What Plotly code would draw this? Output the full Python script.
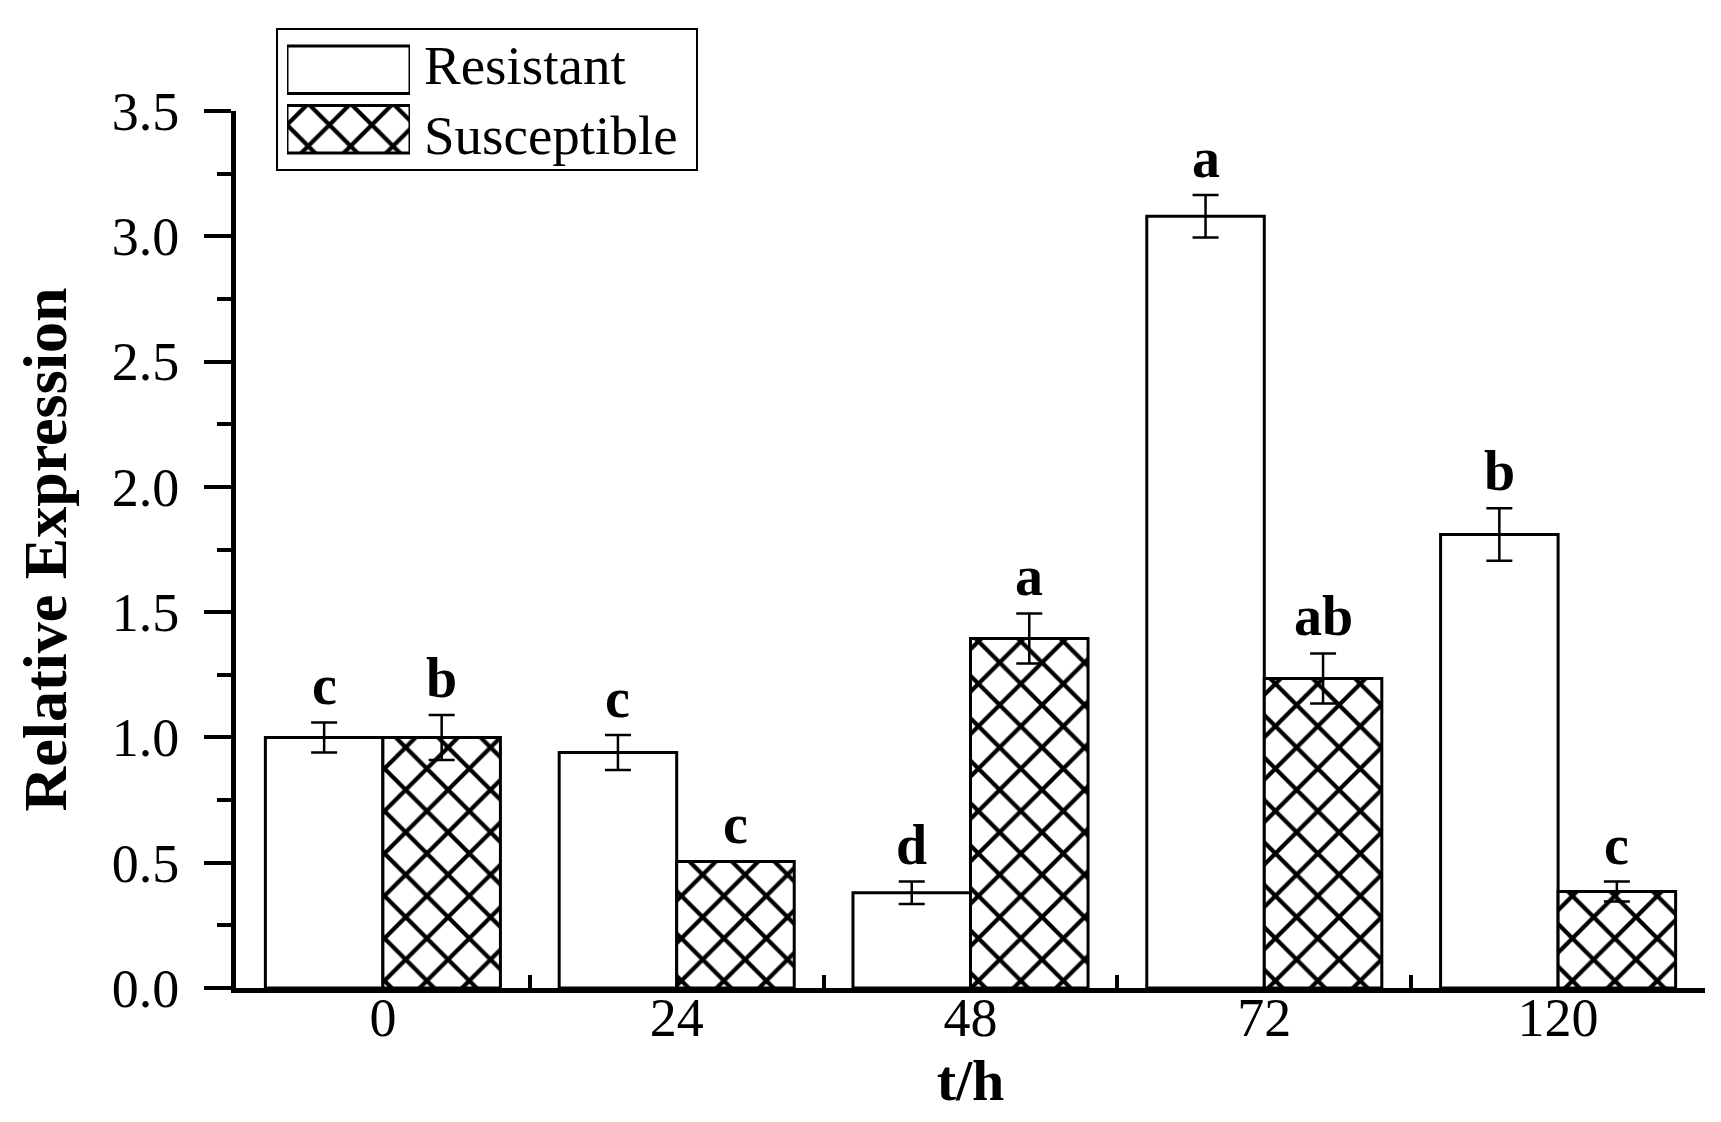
import plotly.graph_objects as go

# ---- data ----
time_labels = ["0", "24", "48", "72", "120"]
series_names = ["Resistant", "Susceptible"]
resistant = [1.00, 0.94, 0.38, 3.08, 1.81]
resistant_err = [0.06, 0.07, 0.045, 0.085, 0.105]
resistant_letters = ["c", "c", "d", "a", "b"]
susceptible = [1.00, 0.505, 1.395, 1.235, 0.385]
susceptible_err = [0.09, 0.0, 0.10, 0.10, 0.04]
susceptible_letters = ["b", "c", "a", "ab", "c"]

FONT = "Liberation Serif, Times New Roman, serif"
W, H = 1721, 1122
ML, MR, MT, MB = 228, 24, 10, 142
plot_w = W - ML - MR
plot_h = H - MT - MB


def px_to_paper_x(px):
    return (px - ML) / plot_w


def px_to_paper_y(py):
    return 1 - (py - MT) / plot_h


main_top = px_to_paper_y(103)

line_style = dict(color="black", width=3)
PAT_SIZE, PAT_SOLID = 30, 0.26
pattern_x = dict(shape="x", fgcolor="black", bgcolor="white", fgopacity=1,
                 size=PAT_SIZE, solidity=PAT_SOLID)

fig = go.Figure()
fig.add_trace(go.Bar(
    x=time_labels, y=resistant, name=series_names[0],
    marker=dict(color="white", line=line_style),
    error_y=dict(type="data", array=resistant_err, color="black", thickness=2.5, width=13),
    showlegend=False,
))
fig.add_trace(go.Bar(
    x=time_labels, y=susceptible, name=series_names[1],
    marker=dict(color="white", line=line_style, pattern=pattern_x),
    error_y=dict(type="data", array=susceptible_err, color="black", thickness=2.5, width=13),
    showlegend=False,
))

# significance letters
annotations = []
for i in range(len(time_labels)):
    for off, vals, errs, letters in ((-0.2, resistant, resistant_err, resistant_letters),
                                     (0.2, susceptible, susceptible_err, susceptible_letters)):
        annotations.append(dict(
            x=i + off, y=vals[i] + errs[i], xref="x", yref="y",
            text=letters[i], showarrow=False, yanchor="bottom", yshift=4,
            font=dict(family=FONT, size=56, color="black", weight="bold"),
        ))

# legend (inset swatches + labels)
fig.add_trace(go.Bar(
    x=[1, 1], y=[0, 1], orientation="h", width=0.8, base=0,
    marker=dict(color="white", line=line_style,
                pattern=dict(shape=["", "x"], fgcolor="black", bgcolor="white", fgopacity=1,
                             size=PAT_SIZE, solidity=PAT_SOLID)),
    xaxis="x2", yaxis="y2", showlegend=False, hoverinfo="skip",
))
for name, py in zip(series_names, (57, 127)):
    annotations.append(dict(
        x=px_to_paper_x(414), y=px_to_paper_y(py), xref="paper", yref="paper",
        text=name, showarrow=False, xanchor="left", yanchor="middle",
        font=dict(family=FONT, size=55, color="black"),
    ))

fig.update_layout(
    width=W, height=H,
    margin=dict(l=ML, r=MR, t=MT, b=MB),
    paper_bgcolor="white", plot_bgcolor="white",
    barmode="group", bargap=0.2, bargroupgap=0,
    font=dict(family=FONT, color="black"),
    annotations=annotations,
    shapes=[dict(type="rect", xref="paper", yref="paper",
                 x0=px_to_paper_x(269), x1=px_to_paper_x(689),
                 y0=px_to_paper_y(162), y1=px_to_paper_y(21),
                 line=dict(color="black", width=2), fillcolor="rgba(0,0,0,0)")],
    xaxis=dict(
        type="category", range=[-0.5, 4.5], domain=[0, 1],
        showline=True, linecolor="black", linewidth=5,
        ticks="inside", ticklen=13, tickwidth=4, tickcolor="black",
        tickson="boundaries", showgrid=False, zeroline=False,
        tickfont=dict(family=FONT, size=54, color="black"),
        ticklabelstandoff=-22,
        title=dict(text="<b>t/h</b>", font=dict(family=FONT, size=58, color="black"), standoff=4),
        automargin=False,
    ),
    yaxis=dict(
        range=[0, 3.5], domain=[0, main_top], dtick=0.5, tickformat=".1f",
        showline=True, linecolor="black", linewidth=5,
        ticks="outside", ticklen=27, tickwidth=4, tickcolor="black",
        minor=dict(ticks="outside", ticklen=14, tickwidth=4, tickcolor="black", dtick=0.25),
        showgrid=False, zeroline=False,
        tickfont=dict(family=FONT, size=54, color="black"),
        ticklabelstandoff=14,
        title=dict(text="<b>Relative Expression</b>", font=dict(family=FONT, size=62, color="black"), standoff=27),
        automargin=False,
    ),
    xaxis2=dict(domain=[px_to_paper_x(279), px_to_paper_x(402)], range=[0, 1],
                visible=False, anchor="y2", fixedrange=True),
    yaxis2=dict(domain=[px_to_paper_y(151), px_to_paper_y(32)], range=[1.5, -0.5],
                visible=False, anchor="x2", fixedrange=True),
)

fig.write_html("out.html")
